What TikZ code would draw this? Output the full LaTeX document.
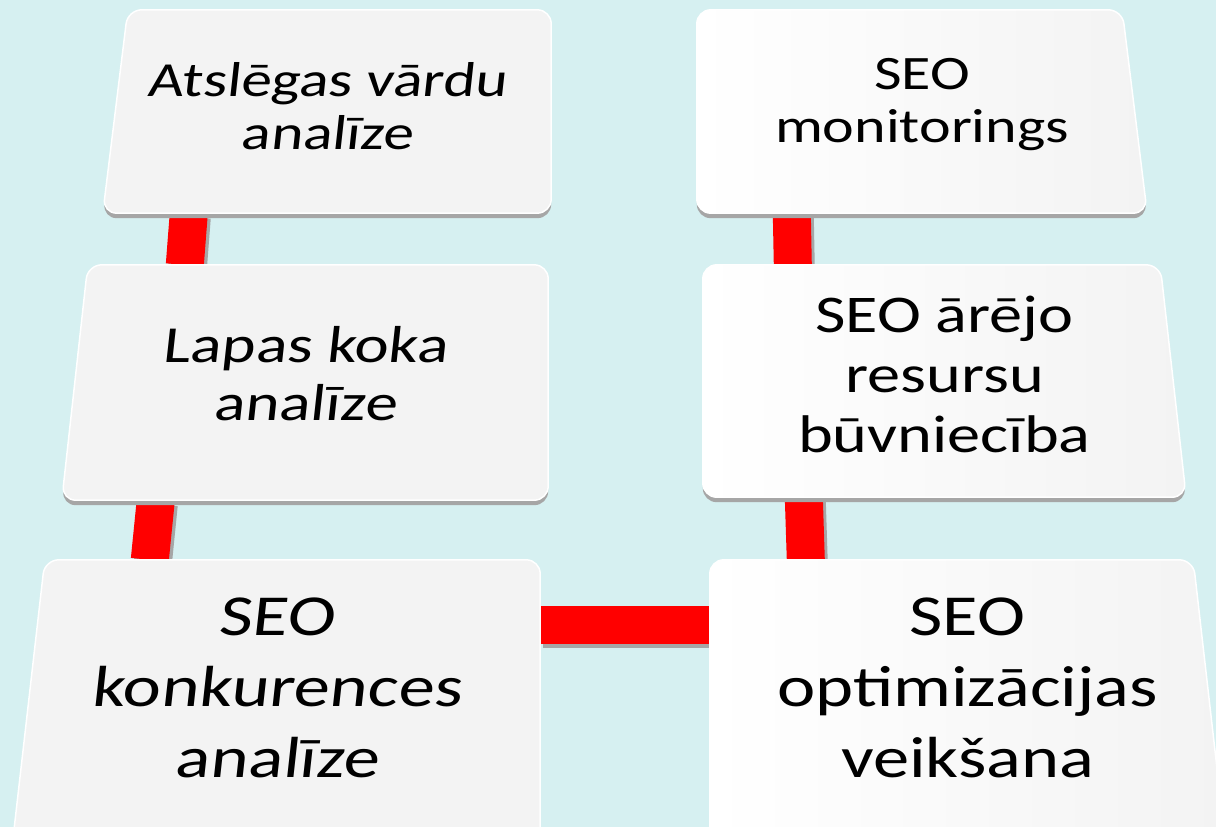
\documentclass[tikz,border=0pt]{standalone}
\usepackage{fontspec}
\setmainfont{Carlito}
\newfontfamily\boxfont[FakeStretch=1.25]{Carlito}
\newfontfamily\tiltfont[FakeStretch=1.25,FakeSlant=0.11]{Carlito}
\usetikzlibrary{positioning, shadows}
\definecolor{skybg}{RGB}{214,240,241}
\definecolor{boxgray}{RGB}{243,243,243}
\pgfdeclarelayer{bg}
\pgfdeclarelayer{links}
\pgfdeclarelayer{slabs}
\pgfsetlayers{bg,links,slabs,main}

% slab outlines: left ones lean on the left side, right ones on the right side
\newcommand\leftslab[2]{\path[slab, fill=boxgray] ([xshift=#2]#1.north west) -- (#1.north east) -- (#1.south east) -- (#1.south west) -- cycle;}
\newcommand\rightslab[2]{\path[slab, left color=white, right color=boxgray] (#1.north west) -- ([xshift=-#2]#1.north east) -- (#1.south east) -- (#1.south west) -- cycle;}

\begin{document}
\begin{tikzpicture}[x=1pt, y=-1pt,
    box/.style={rectangle, inner sep=0pt, align=center},
    slab/.style={rounded corners=14pt, draw=white, line width=1.5pt, drop shadow={shadow xshift=0pt, shadow yshift=-5pt, fill=gray!70, opacity=1}},
    link/.style={line width=38pt, red, preaction={draw=gray!70, line width=38pt, transform canvas={shift={(3pt,-4pt)}}}}]
    \useasboundingbox (0,0) rectangle (1216,827);
    \begin{pgfonlayer}{bg}
        \fill[skybg] (0,0) rectangle (1216,827);
    \end{pgfonlayer}

    \node[box, minimum width=448pt, minimum height=203pt, text depth=12pt, font={\tiltfont\fontsize{49}{53}\selectfont}] (keyword) at (327,111.5) {Atslēgas vārdu\\analīze};
    \node[box, minimum width=486pt, minimum height=235pt, text depth=18pt, font={\tiltfont\fontsize{52}{58}\selectfont}] (sitemap) at (305,382.5) {Lapas koka\\analīze};
    \node[box, minimum width=527pt, minimum height=280pt, text depth=24pt, font={\tiltfont\fontsize{58}{71}\selectfont}] (rivals) at (276.5,700) {SEO\\konkurences\\analīze};

    \node[box, minimum width=450pt, minimum height=203pt, text depth=22pt, font={\boxfont\fontsize{48}{53}\selectfont}] (monitor) at (922,111.5) {SEO\\monitorings};
    \node[box, minimum width=483pt, minimum height=232pt, text depth=14pt, font={\boxfont\fontsize{53}{60}\selectfont}] (outreach) at (944.5,381) {SEO ārējo\\resursu\\būvniecība};
    \node[box, minimum width=515pt, minimum height=280pt, text depth=24pt, font={\boxfont\fontsize{58}{71}\selectfont}] (onpage) at (967.5,700) {SEO\\optimizācijas\\veikšana};

    \begin{pgfonlayer}{slabs}
        \leftslab{keyword}{25pt}
        \leftslab{sitemap}{26pt}
        \leftslab{rivals}{32pt}
        \rightslab{monitor}{25pt}
        \rightslab{outreach}{26pt}
        \rightslab{onpage}{32pt}
    \end{pgfonlayer}

    \begin{pgfonlayer}{links}
        \draw[link] ([xshift=86pt]keyword.south west) -- ([xshift=123pt]sitemap.north west);
        \draw[link] ([xshift=94pt]sitemap.south west) -- ([xshift=137pt]rivals.north west);
        \draw[link] ([yshift=75pt]rivals.east) -- ([yshift=75pt]onpage.west);
        \draw[link] ([xshift=101pt]outreach.south west) -- ([xshift=96pt]onpage.north west);
        \draw[link] ([xshift=95pt]monitor.south west) -- ([xshift=90pt]outreach.north west);
    \end{pgfonlayer}
\end{tikzpicture}
\end{document}
